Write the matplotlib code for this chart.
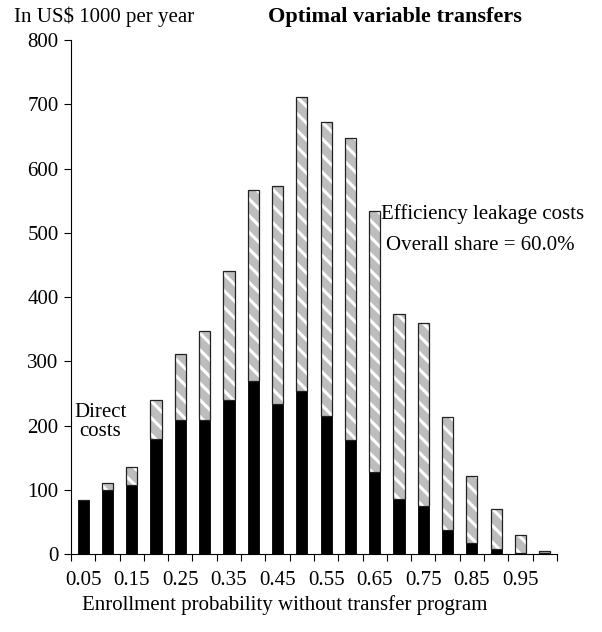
import numpy as np
import matplotlib
matplotlib.use("Agg")
import matplotlib.pyplot as plt

# enrollment probability categories
probs = [0.05, 0.10, 0.15, 0.20, 0.25, 0.30, 0.35, 0.40, 0.45, 0.50,
         0.55, 0.60, 0.65, 0.70, 0.75, 0.80, 0.85, 0.90, 0.95, 1.00]
# costs in US$ 1000 per year
direct = [84, 99, 108, 179, 209, 208, 240, 270, 233, 253,
          215, 177, 127, 86, 74, 37, 17, 8, 2, 2]
total = [84, 111, 136, 240, 311, 347, 441, 566, 572, 711,
         672, 648, 534, 373, 359, 214, 122, 70, 30, 4]
tick_labels = ["0.05", "0.15", "0.25", "0.35", "0.45",
               "0.55", "0.65", "0.75", "0.85", "0.95"]

leakage = [t - d for t, d in zip(total, direct)]

plt.rcParams['font.family'] = ['Liberation Serif', 'DejaVu Serif']
plt.rcParams['hatch.linewidth'] = 2.2

fig = plt.figure(figsize=(6.02, 6.32), dpi=100)
ax = fig.add_axes([0.118, 0.1234, 0.807, 0.8133])

x = np.arange(len(probs))
w = 0.46

ax.bar(x, direct, width=w, color='black', edgecolor='black', linewidth=0.6)
# hatched part: grey with white diagonal stripes, then a dark outline on top
ax.bar(x, leakage, width=w, bottom=direct, color='#bdbdbd',
       edgecolor='white', hatch='\\\\', linewidth=0)
ax.bar(x, leakage, width=w, bottom=direct, fill=False,
       edgecolor='#222222', linewidth=0.9)

ax.set_xlim(-0.5, len(probs) - 0.5)
ax.set_ylim(0, 800)
ax.set_yticks(range(0, 801, 100))
ax.tick_params(axis='y', direction='out', length=5, width=0.8,
               labelsize=15, pad=4)

ax.set_xticks(x[::2])
ax.set_xticklabels(tick_labels)
ax.set_xticks(np.arange(-0.5, len(probs)), minor=True)
ax.tick_params(axis='x', which='major', length=0, labelsize=15, pad=12)
ax.tick_params(axis='x', which='minor', direction='out', length=5, width=0.8)

for s in ['top', 'right']:
    ax.spines[s].set_visible(False)
ax.spines['left'].set_linewidth(0.8)
ax.spines['bottom'].set_linewidth(0.8)

fig.text(285 / 602, 1 - 605 / 632,
         'Enrollment probability without transfer program',
         fontsize=15, ha='center', va='center')

fig.text(14 / 602, 0.965, 'In US$ 1000 per year', fontsize=15,
         ha='left', va='baseline')
fig.text(395 / 602, 0.965, 'Optimal variable transfers', fontsize=16,
         fontweight='bold', ha='center', va='baseline')

ax.text(0.7, 205, 'Direct\ncosts', fontsize=15, ha='center', va='center',
        linespacing=1.0)
ax.text(12.28, 529, 'Efficiency leakage costs', fontsize=15,
        ha='left', va='center')
ax.text(12.45, 480, 'Overall share = 60.0%', fontsize=15,
        ha='left', va='center')

plt.savefig('out.png', dpi=100)
plt.close()
